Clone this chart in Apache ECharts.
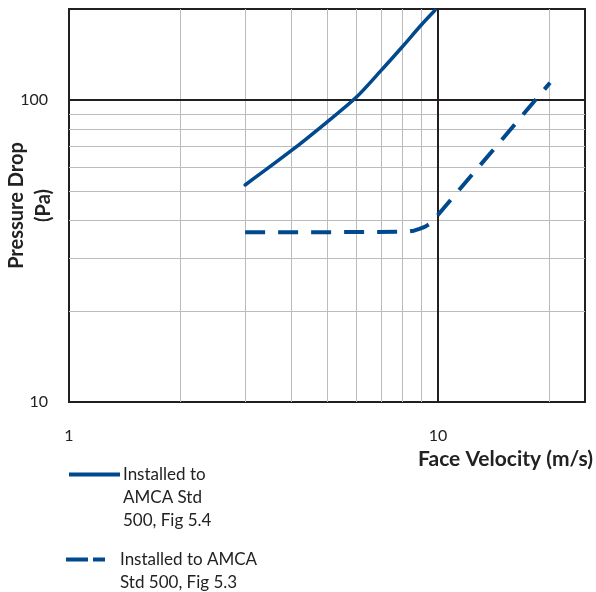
<!DOCTYPE html>
<html>
<head>
<meta charset="utf-8">
<script src="https://cdn.jsdelivr.net/npm/echarts@6/dist/echarts.min.js"></script>
<style>
html,body{margin:0;padding:0;background:#fff;}
#c{width:596px;height:592px;}
</style>
</head>
<body>
<div id="c"></div>
<script>
// ---- data ----
var fig54Velocity = [3, 4, 5, 6, 7, 8, 9, 9.81];
var fig54Pressure = [52.3, 67.9, 84.5, 102, 125, 150, 177, 198];
var fig53Velocity = [3, 5, 8.2, 8.6, 8.9, 9.2, 9.5, 9.75, 10, 15.1, 20.1];
var fig53Pressure = [36.5, 36.5, 36.6, 36.9, 37.4, 38.0, 38.9, 40.1, 41.7, 75.4, 114];
var seriesNames = ['Installed to\nAMCA Std\n500, Fig 5.4', 'Installed to AMCA\nStd 500, Fig 5.3'];
var xMinorGrid = [2, 3, 4, 5, 6, 7, 8, 9, 20];
var yMinorGrid = [20, 30, 40, 50, 60, 70, 80, 90];
var xMajorGrid = [10];
var yMajorGrid = [100];
var xAxisTitle = 'Face Velocity (m/s)';
var yAxisTitle = 'Pressure Drop\n(Pa)';

function zip(a, b) { return a.map(function (v, i) { return [v, b[i]]; }); }

var FONT = 'Lato';
var BLUE = '#00498f';
var BLACK = '#231f20';
var GREY = '#bcbcbc';

var minorLines = xMinorGrid.map(function (v) { return { xAxis: v }; })
  .concat(yMinorGrid.map(function (v) { return { yAxis: v }; }));
var majorLines = xMajorGrid.map(function (v) { return { xAxis: v }; })
  .concat(yMajorGrid.map(function (v) { return { yAxis: v }; }));

var chart = echarts.init(document.getElementById('c'), null, { renderer: 'canvas' });
chart.setOption({
  animation: false,
  backgroundColor: '#fff',
  textStyle: { fontFamily: FONT },
  grid: {
    left: 69, right: 11, top: 9, bottom: 190,
    containLabel: false, outerBoundsMode: 'none',
    show: true, borderColor: BLACK, borderWidth: 2, backgroundColor: 'transparent'
  },
  xAxis: {
    type: 'log', logBase: 10, min: 1, max: 25,
    axisLine: { show: true, lineStyle: { color: BLACK, width: 2 } },
    axisTick: { show: false },
    splitLine: { show: false },
    axisLabel: { showMaxLabel: false, margin: 26, color: '#222', fontSize: 16, fontFamily: FONT },
    name: '{t|' + xAxisTitle + '}',
    nameLocation: 'end',
    nameGap: 8,
    nameMoveOverlap: false,
    nameTextStyle: {
      align: 'right', verticalAlign: 'top', padding: [47, 0, 0, 0],
      rich: { t: { fontWeight: 'bold', fontSize: 21, color: '#222', fontFamily: FONT } }
    }
  },
  yAxis: {
    type: 'log', logBase: 10, min: 10, max: 200,
    axisLine: { show: true, lineStyle: { color: BLACK, width: 2 } },
    axisTick: { show: false },
    splitLine: { show: false },
    axisLabel: { showMaxLabel: false, margin: 21, color: '#222', fontSize: 16, fontFamily: FONT },
    name: yAxisTitle,
    nameLocation: 'middle',
    nameRotate: 90,
    nameGap: 12,
    nameMoveOverlap: false,
    nameTextStyle: {
      fontWeight: 'bold', fontSize: 20, lineHeight: 27, color: '#222', fontFamily: FONT
    }
  },
  legend: [
    {
      left: 69, top: 417, padding: 0, itemWidth: 51, itemHeight: 4,
      data: [{ name: seriesNames[0], icon: 'path://M0,0H51V4H0Z', textStyle: { padding: [0, 0, 0, -2] } }],
      formatter: function (n) { return '\n\n' + n; },
      textStyle: { fontSize: 17, lineHeight: 23, color: '#222', fontFamily: FONT }
    },
    {
      left: 66, top: 525, padding: 0, itemWidth: 39, itemHeight: 4,
      data: [{ name: seriesNames[1], icon: 'path://M0,0H22V4H0Z M27,0H39V4H27Z', textStyle: { padding: [0, 0, 0, 10] } }],
      formatter: function (n) { return '\n' + n; },
      textStyle: { fontSize: 17, lineHeight: 23, color: '#222', fontFamily: FONT }
    }
  ],
  series: [
    {
      type: 'line', name: 'minorGrid', data: [], silent: true, z: 1,
      markLine: {
        silent: true, symbol: 'none', label: { show: false },
        lineStyle: { color: GREY, width: 1, type: 'solid' },
        animation: false,
        data: minorLines
      }
    },
    {
      type: 'line', name: 'majorGrid', data: [], silent: true, z: 2,
      markLine: {
        silent: true, symbol: 'none', label: { show: false },
        lineStyle: { color: BLACK, width: 2, type: 'solid' },
        animation: false,
        data: majorLines
      }
    },
    {
      type: 'line', name: seriesNames[0], z: 5,
      data: zip(fig54Velocity, fig54Pressure),
      smooth: 0.3, symbol: 'none', showSymbol: false,
      lineStyle: { color: BLUE, width: 3.5, cap: 'round' },
      itemStyle: { color: BLUE }
    },
    {
      type: 'line', name: seriesNames[1], z: 5,
      data: zip(fig53Velocity, fig53Pressure),
      smooth: false, symbol: 'none', showSymbol: false,
      lineStyle: { color: BLUE, width: 4, type: [20, 13], cap: 'butt', join: 'round' },
      itemStyle: { color: BLUE }
    }
  ]
});
</script>
</body>
</html>
